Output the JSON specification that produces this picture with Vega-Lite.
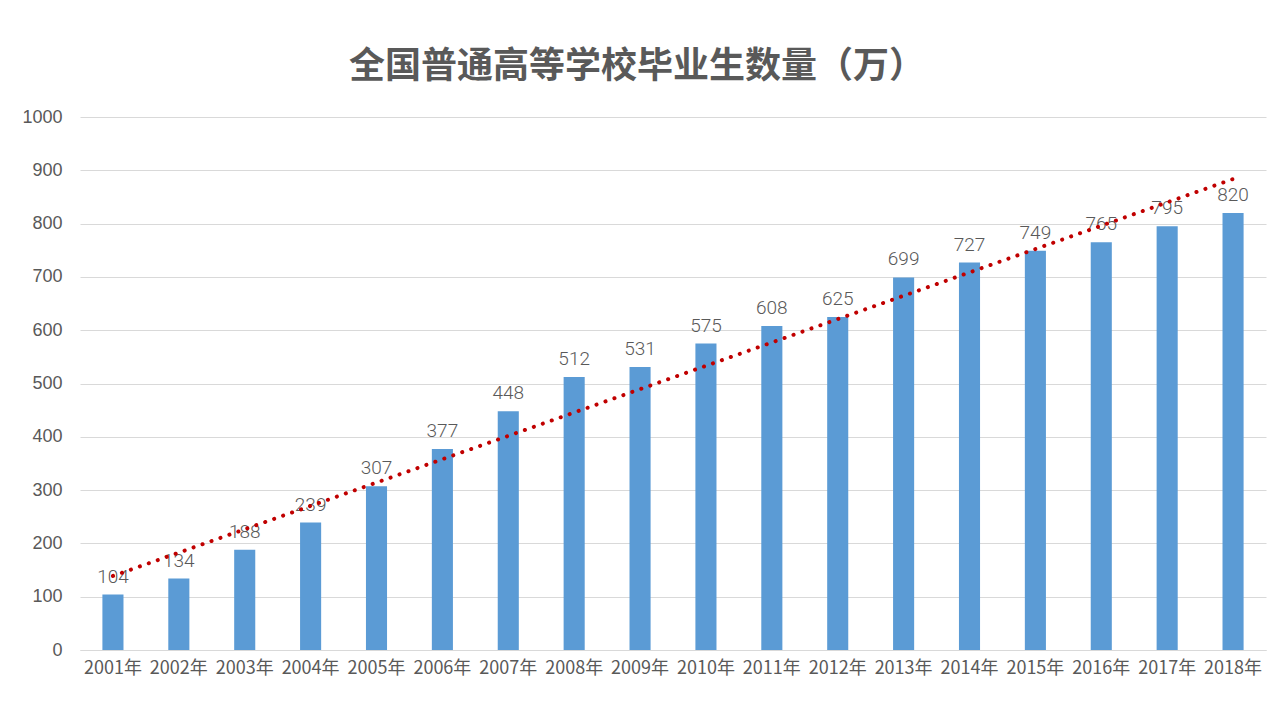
{
  "$schema": "https://vega.github.io/schema/vega-lite/v6.json",
  "autosize": {"type": "none"},
  "width": 1186,
  "height": 533,
  "padding": {"left": 80, "top": 117, "right": 14, "bottom": 70},
  "background": "white",
  "title": {
    "text": "全国普通高等学校毕业生数量（万）",
    "font": "Noto Sans CJK SC",
    "fontSize": 36,
    "fontWeight": "bold",
    "color": "#595959",
    "anchor": "middle",
    "frame": "group",
    "dx": -36,
    "offset": 22
  },
  "config": {
    "view": {"stroke": null},
    "axis": {"labelColor": "#595959", "gridColor": "#D9D9D9", "domainColor": "#D9D9D9", "ticks": false, "title": null}
  },
  "data": {
    "values": [
      {"year": "2001年", "idx": 1, "value": 104},
      {"year": "2002年", "idx": 2, "value": 134},
      {"year": "2003年", "idx": 3, "value": 188},
      {"year": "2004年", "idx": 4, "value": 239},
      {"year": "2005年", "idx": 5, "value": 307},
      {"year": "2006年", "idx": 6, "value": 377},
      {"year": "2007年", "idx": 7, "value": 448},
      {"year": "2008年", "idx": 8, "value": 512},
      {"year": "2009年", "idx": 9, "value": 531},
      {"year": "2010年", "idx": 10, "value": 575},
      {"year": "2011年", "idx": 11, "value": 608},
      {"year": "2012年", "idx": 12, "value": 625},
      {"year": "2013年", "idx": 13, "value": 699},
      {"year": "2014年", "idx": 14, "value": 727},
      {"year": "2015年", "idx": 15, "value": 749},
      {"year": "2016年", "idx": 16, "value": 765},
      {"year": "2017年", "idx": 17, "value": 795},
      {"year": "2018年", "idx": 18, "value": 820}
    ]
  },
  "layer": [
    {
      "encoding": {
        "x": {
          "field": "year", "type": "ordinal", "sort": null,
          "scale": {"paddingInner": 0.68, "paddingOuter": 0.34},
          "axis": {"labelAngle": 0, "labelFont": "Noto Sans CJK SC", "labelFontSize": 18, "labelPadding": 9, "domain": true, "domainWidth": 1, "grid": false}
        },
        "y": {
          "field": "value", "type": "quantitative",
          "scale": {"domain": [0, 1000], "nice": false},
          "axis": {"values": [0, 100, 200, 300, 400, 500, 600, 700, 800, 900, 1000], "format": "d", "labelFont": "Liberation Sans", "labelFontSize": 18, "labelPadding": 18, "domain": false, "grid": true}
        }
      },
      "layer": [
        {"mark": {"type": "bar", "color": "#5B9BD5"}},
        {
          "mark": {"type": "text", "font": "Roboto", "fontWeight": 300, "fontSize": 19, "color": "#595959", "baseline": "alphabetic", "dy": -12},
          "encoding": {"text": {"field": "value", "type": "quantitative"}}
        }
      ]
    },
    {
      "transform": [{"regression": "value", "on": "idx"}],
      "mark": {"type": "line", "color": "#C00000", "strokeWidth": 4, "strokeCap": "round", "strokeDash": [0.1, 9.4]},
      "encoding": {
        "x": {"field": "idx", "type": "quantitative", "scale": {"domain": [0.5, 18.5], "nice": false, "zero": false}, "axis": null},
        "y": {"field": "value", "type": "quantitative"}
      }
    }
  ],
  "resolve": {"scale": {"x": "independent"}, "axis": {"x": "independent"}}
}
